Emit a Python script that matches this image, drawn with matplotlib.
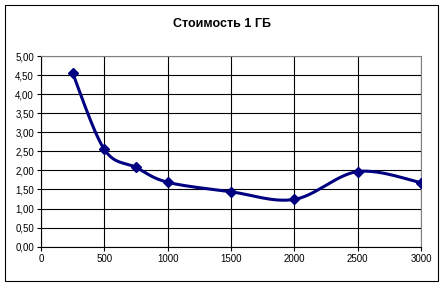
import numpy as np
import matplotlib.pyplot as plt
from matplotlib.patches import Rectangle

# Data
volume = [250, 500, 750, 1000, 1500, 2000, 2500, 3000]
cost = [4.55, 2.55, 2.08, 1.69, 1.44, 1.24, 1.97, 1.68]
x_ticks = [0, 500, 1000, 1500, 2000, 2500, 3000]
y_ticks = [0, 0.5, 1.0, 1.5, 2.0, 2.5, 3.0, 3.5, 4.0, 4.5, 5.0]


def smooth(xs, ys, n=30):
    # Excel-like smoothed line (Catmull-Rom through points)
    xs = np.asarray(xs, float)
    ys = np.asarray(ys, float)
    px = np.concatenate([[xs[0]], xs, [xs[-1]]])
    py = np.concatenate([[ys[0]], ys, [ys[-1]]])
    ox, oy = [], []
    t = np.linspace(0, 1, n)
    for i in range(1, len(px) - 2):
        p0x, p1x, p2x, p3x = px[i - 1:i + 3]
        p0y, p1y, p2y, p3y = py[i - 1:i + 3]
        c1x, c1y = p1x + (p2x - p0x) / 6, p1y + (p2y - p0y) / 6
        c2x, c2y = p2x - (p3x - p1x) / 6, p2y - (p3y - p1y) / 6
        bx = (1 - t) ** 3 * p1x + 3 * (1 - t) ** 2 * t * c1x + 3 * (1 - t) * t ** 2 * c2x + t ** 3 * p2x
        by = (1 - t) ** 3 * p1y + 3 * (1 - t) ** 2 * t * c1y + 3 * (1 - t) * t ** 2 * c2y + t ** 3 * p2y
        ox.extend(bx)
        oy.extend(by)
    return ox, oy


plt.rcParams['font.family'] = ['Liberation Sans', 'DejaVu Sans']

fig = plt.figure(figsize=(4.43, 2.86), dpi=100)
fig.patches.append(Rectangle((5 / 443, 5 / 286), 433 / 443, 276 / 286, transform=fig.transFigure,
                             fill=False, edgecolor='black', linewidth=0.8))

ax = fig.add_axes([41 / 443, 1 - 246.7 / 286, 380 / 443, 190.7 / 286])

sx, sy = smooth(volume, cost)
ax.plot(sx, sy, color='#000080', linewidth=2.2, zorder=3)
ax.plot(volume, cost, linestyle='none', marker='D', markersize=5.6, color='#000080', zorder=4)

ax.set_xlim(0, 3000)
ax.set_ylim(0, 5)
ax.set_xticks(x_ticks)
ax.set_yticks(y_ticks)
ax.set_yticklabels([f'{v:.2f}'.replace('.', ',') for v in y_ticks])
ax.grid(True, color='black', linewidth=0.8)
ax.set_axisbelow(True)
ax.tick_params(labelsize=7, length=3, width=0.8, pad=2)
ax.spines['top'].set_color('#808080')
ax.spines['right'].set_color('#808080')
ax.spines['left'].set_linewidth(0.8)
ax.spines['bottom'].set_linewidth(0.8)

fig.text(222 / 443, 1 - 24 / 286, 'Стоимость 1 ГБ', ha='center', va='center',
         fontsize=9, fontweight='bold')

fig.savefig('out.png', dpi=100)
